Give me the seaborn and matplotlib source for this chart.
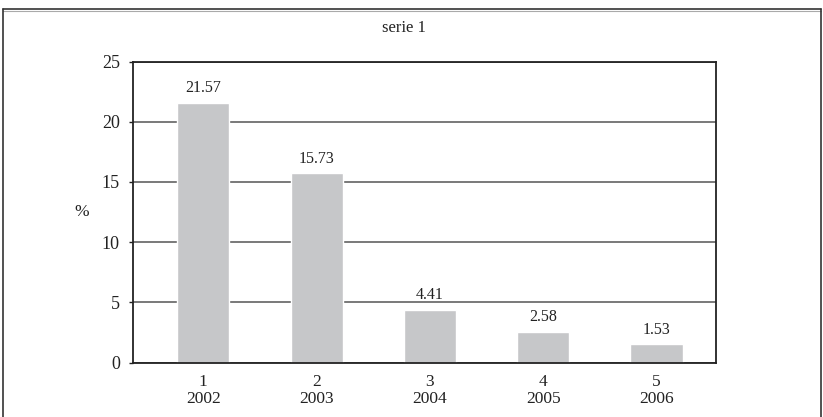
import pandas as pd
import seaborn as sns
import matplotlib.pyplot as plt
from matplotlib.lines import Line2D

# data
idx = ['1', '2', '3', '4', '5']
years = ['2002', '2003', '2004', '2005', '2006']
pct = [21.57, 15.73, 4.41, 2.58, 1.53]

df = pd.DataFrame({'cat': [i + '\n' + y for i, y in zip(idx, years)], 'pct': pct})

sns.set_theme(style='white')
plt.rcParams['font.family'] = ['Liberation Serif', 'DejaVu Serif']

fig = plt.figure(figsize=(8.23, 4.17), dpi=100)
ax = fig.add_axes([133 / 823, 1 - 362.7 / 417, (716 - 133) / 823, (362.7 - 61.5) / 417])

ax.set_axisbelow(True)
ax.yaxis.grid(True, color='#555555', linewidth=1.1)
sns.barplot(data=df, x='cat', y='pct', color='#c6c7c9', saturation=1, width=0.46, ax=ax)

for i, v in enumerate(pct):
    ax.annotate(f'{v:.2f}', (i, v), xytext=(0, 10.5), textcoords='offset points',
                ha='center', va='center', fontsize=11.5, color='#222222')

ax.set_ylim(0, 25)
ax.set_yticks([0, 5, 10, 15, 20, 25])
ax.set_xlim(-0.62, 4.525)
ax.set_xlabel('')
ax.set_ylabel('%', rotation=0, fontsize=12.5, va='center', ha='center', color='#222222')
ax.yaxis.set_label_coords(-0.0875, 0.5)
ax.tick_params(axis='y', left=True, length=3, width=1, labelsize=13, pad=6.5, colors='#222222')
ax.tick_params(axis='x', bottom=False, labelsize=12.5, pad=2, colors='#222222')
for lab in ax.get_xticklabels():
    lab.set_linespacing(1.1)
for s in ax.spines.values():
    s.set_color('#222222')
    s.set_linewidth(1.3)

fig.text(404 / 823, 1 - 27.5 / 417, 'serie 1', ha='center', va='center', fontsize=12, color='#222222')

# outer frame (top, left, right)
fig.add_artist(Line2D([3 / 823, 821 / 823], [1 - 8.5 / 417, 1 - 8.5 / 417], color='#333333', lw=1.2))
fig.add_artist(Line2D([3 / 823, 821 / 823], [1 - 10.5 / 417, 1 - 10.5 / 417], color='#aaaaaa', lw=0.8))
fig.add_artist(Line2D([3 / 823, 3 / 823], [0, 1 - 8.5 / 417], color='#333333', lw=1.2))
fig.add_artist(Line2D([821 / 823, 821 / 823], [0, 1 - 8.5 / 417], color='#333333', lw=1.2))

fig.savefig('out.png', dpi=100)
